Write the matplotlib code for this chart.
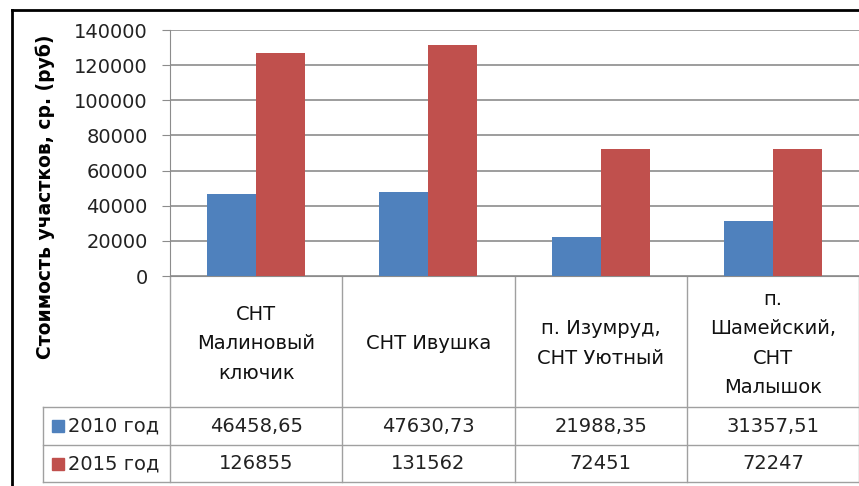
import numpy as np
import matplotlib.pyplot as plt
from matplotlib.patches import Rectangle

# данные
categories = ["СНТ\nМалиновый\nключик", "СНТ Ивушка", "п. Изумруд,\nСНТ Уютный",
              "п.\nШамейский,\nСНТ\nМалышок"]
series_names = ["2010 год", "2015 год"]
values_2010 = [46458.65, 47630.73, 21988.35, 31357.51]
values_2015 = [126855, 131562, 72451, 72247]
labels_2010 = ["46458,65", "47630,73", "21988,35", "31357,51"]
labels_2015 = ["126855", "131562", "72451", "72247"]
yticks = [0, 20000, 40000, 60000, 80000, 100000, 120000, 140000]

blue = "#4F81BD"
red = "#C0504D"
grid_c = "#8c8c8c"
tab_c = "#a0a0a0"

W, H = 859, 486
fig = plt.figure(figsize=(W / 100, H / 100), dpi=100)

# пиксельные границы области построения
left, right, top, bottom = 170, 859, 30, 276
ax = fig.add_axes([left / W, 1 - bottom / H, (right - left) / W, (bottom - top) / H])

x = np.arange(len(categories)) + 0.5
w = 0.285
ax.bar(x - w / 2, values_2010, w, color=blue, zorder=3)
ax.bar(x + w / 2, values_2015, w, color=red, zorder=3)

ax.set_xlim(0, len(categories))
ax.set_ylim(0, 140000)
ax.set_yticks(yticks)
ax.set_yticklabels([str(v) for v in yticks], fontsize=14, color="#222222")
ax.set_xticks([])
ax.yaxis.grid(True, color=grid_c, lw=1.2, zorder=0)
for s in ["top", "right"]:
    ax.spines[s].set_visible(False)
ax.spines["left"].set_color(grid_c)
ax.spines["bottom"].set_color(grid_c)
ax.tick_params(axis="y", length=6, color=grid_c, pad=10)

# таблица данных под графиком
tab = fig.add_axes([0, 0, 1, 1], zorder=-1)
tab.set_xlim(0, W)
tab.set_ylim(H, 0)
tab.axis("off")

cat_w = (right - left) / len(categories)
row_top, row1, row2, row_bot = bottom, 407, 445, 482
tab_left = 43

for i in range(len(categories) + 1):
    xv = left + i * cat_w
    tab.plot([xv, xv], [row_top, row_bot], color=tab_c, lw=1)
for yv in [row1, row2, row_bot]:
    tab.plot([tab_left, right], [yv, yv], color=tab_c, lw=1)
tab.plot([tab_left, tab_left], [row1, row_bot], color=tab_c, lw=1)

for i, cat in enumerate(categories):
    cx = left + (i + 0.5) * cat_w
    tab.text(cx, (row_top + row1) / 2 + 2, cat, ha="center", va="center",
             fontsize=14, linespacing=1.7, color="#111111")
    tab.text(cx, (row1 + row2) / 2, labels_2010[i], ha="center", va="center",
             fontsize=14, color="#222222")
    tab.text(cx, (row2 + row_bot) / 2, labels_2015[i], ha="center", va="center",
             fontsize=14, color="#222222")

for j, (name, col) in enumerate(zip(series_names, [blue, red])):
    yc = [(row1 + row2) / 2, (row2 + row_bot) / 2][j]
    tab.add_patch(Rectangle((52, yc - 6), 12, 12, color=col))
    tab.text(68, yc, name, ha="left", va="center", fontsize=14, color="#222222")

# рамка диаграммы
tab.plot([12, W], [10, 10], color="black", lw=2)
tab.plot([12, 12], [10, H], color="black", lw=2)

fig.text(45 / W, 1 - 197 / H, "Стоимость участков, ср. (руб)", rotation=90,
         ha="center", va="center", fontsize=13.5, fontweight="bold")

fig.savefig("out.png", dpi=100)
